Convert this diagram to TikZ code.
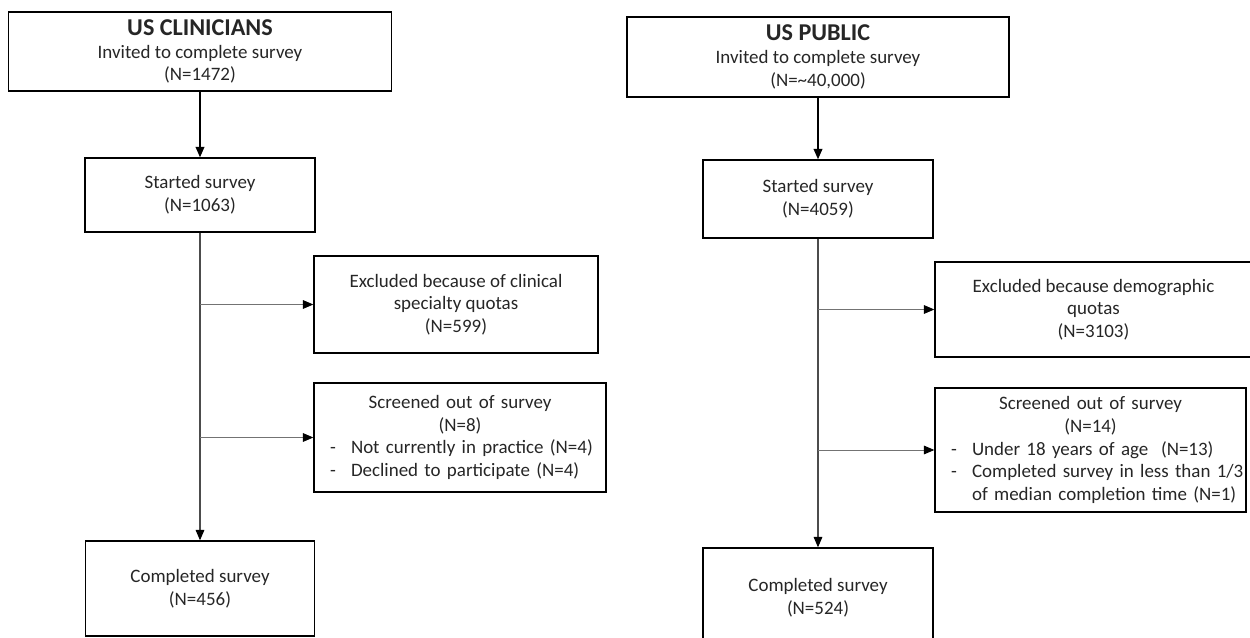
\documentclass[tikz,border=0pt]{standalone}
\usepackage{fontspec}
\setmainfont{Carlito}
\usetikzlibrary{arrows.meta}
\newlength{\unitpx}
\setlength{\unitpx}{0.58pt}
\newcommand{\dashitem}[1]{\noindent\makebox[21\unitpx][l]{-}\mbox{#1}\par}
\newcommand{\dashcont}[1]{\noindent\hspace*{21\unitpx}\mbox{#1}\par}

\begin{document}
\begin{tikzpicture}[x=\unitpx,y=-\unitpx,
  every node/.style={font=\fontsize{11}{13.2}\selectfont,text=black!85},
  box/.style={draw,line width=0.8pt,inner sep=0pt,align=center},
  scrbox/.style={draw,line width=0.8pt,inner xsep=16*\unitpx,inner ysep=0pt},
  tip/.style={-{Triangle[length=6pt,width=5pt,color=black]}}]
  \useasboundingbox (0,0) rectangle (1250,637);

  % clinicians
  \node[box,minimum width=383*\unitpx,minimum height=79*\unitpx] (clin) at (200,51.5)
    {{\fontsize{14}{17}\selectfont\bfseries US CLINICIANS}\\Invited to complete survey\\(N=1472)};
  \node[box,minimum width=230*\unitpx,minimum height=74*\unitpx] (clinstart) at (200,195) {Started survey\\(N=1063)};
  \node[box,minimum width=284*\unitpx,minimum height=97*\unitpx] (clinexcl) at (456,304.5)
    {Excluded because of clinical\\specialty quotas\\(N=599)};
  \node[scrbox,text width=260*\unitpx,minimum height=109*\unitpx] (clinscr) at (460,437.5)
    {{\centering Screened out of survey\\(N=8)\par}
     \dashitem{Not currently in practice (N=4)}
     \dashitem{Declined to participate (N=4)}};
  \node[box,minimum width=229*\unitpx,minimum height=95*\unitpx] (clindone) at (200,588.5) {Completed survey\\(N=456)};

  % public
  \node[box,minimum width=382*\unitpx,minimum height=80*\unitpx] (pub) at (818,57)
    {{\fontsize{14}{17}\selectfont\bfseries US PUBLIC}\\Invited to complete survey\\(N=\textasciitilde40,000)};
  \node[box,minimum width=230*\unitpx,minimum height=78*\unitpx] (pubstart) at (818,199) {Started survey\\(N=4059)};
  \node[box,minimum width=317*\unitpx,minimum height=95*\unitpx] (pubexcl) at (1093.5,309.5)
    {Excluded because demographic\\quotas\\(N=3103)};
  \node[scrbox,text width=279*\unitpx,minimum height=124*\unitpx] (pubscr) at (1090.5,450)
    {{\centering Screened out of survey\\(N=14)\par}
     \dashitem{Under 18 years of age\ \ (N=13)}
     \dashitem{Completed survey in less than 1/3}
     \dashcont{of median completion time (N=1)}};
  \node[box,minimum width=230*\unitpx,minimum height=100*\unitpx] (pubdone) at (818,598) {Completed survey\\(N=524)};

  \foreach \from/\to in {clin/clinstart, pub/pubstart}
    \draw[tip,line width=0.9pt] (\from) -- (\to);
  \foreach \from/\to in {clinstart/clindone, pubstart/pubdone}
    \draw[tip,line width=0.6pt,black!70] (\from.south) -- (\to.north);
  \foreach \from/\to in {clinstart/clinexcl, clinstart/clinscr, pubstart/pubexcl, pubstart/pubscr}
    \draw[tip,line width=0.5pt,black!55] (\from |- \to.west) -- (\to.west);
\end{tikzpicture}
\end{document}
